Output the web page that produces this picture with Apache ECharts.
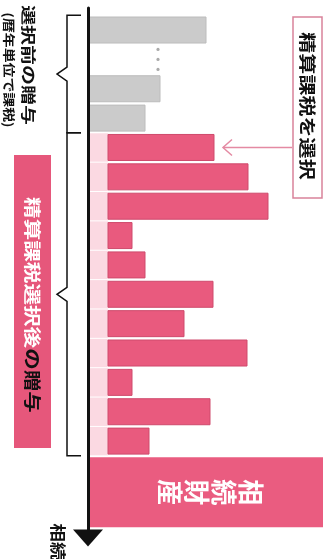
<!DOCTYPE html>
<html>
<head>
<meta charset="utf-8">
<script src="https://cdn.jsdelivr.net/npm/echarts@6/dist/echarts.min.js"></script>
<style>
  html, body { margin: 0; padding: 0; background: #fff; }
  #chart { width: 328px; height: 559px; }
</style>
</head>
<body>
<div id="chart"></div>
<script>
// 行番号（縦方向）と金額（横方向）
var grayRows = [0, 2, 3];
var grayValues = [118, 72, 57];
var omittedRow = 1;
var omittedValue = 70;
var pinkRows = [4, 5, 6, 7, 8, 9, 10, 11, 12, 13, 14];
var pinkBase = 20;
var pinkValues = [106, 140, 160, 24, 37, 105, 76, 139, 24, 102, 41];
var estateRow = 15.74;
var estateSpan = 2.38;
var estateValue = 235;
var estateLabel = '相続財産';

var FONT = '"Noto Sans CJK JP", sans-serif';
var BAR_SPAN = 0.886;

var grayData = grayRows.map(function (r, i) { return [r, 0, grayValues[i], BAR_SPAN]; });
var baseData = pinkRows.map(function (r) { return [r, 0, pinkBase, 0.966]; });
var pinkData = pinkRows.map(function (r, i) { return [r, pinkBase, pinkBase + pinkValues[i], BAR_SPAN]; });
var estateData = [[estateRow, 0, estateValue, estateSpan]];

function barItem(fill, stroke, label) {
  return function (params, api) {
    var y = api.value(0), s = api.value(3);
    var p0 = api.coord([api.value(1), y - s / 2]);
    var p1 = api.coord([api.value(2), y + s / 2]);
    var el = {
      type: 'rect',
      shape: { x: p0[0], y: p0[1], width: p1[0] - p0[0], height: p1[1] - p0[1] },
      style: { fill: fill, stroke: stroke, lineWidth: stroke ? 1 : 0 }
    };
    if (label) {
      el.textContent = {
        style: { text: label.split('').join('\n'), fill: '#fff', fontSize: 26, fontWeight: 'bold',
                 fontFamily: FONT, lineHeight: 27, align: 'center', verticalAlign: 'middle' }
      };
      el.textConfig = { position: 'inside', rotation: -Math.PI / 2, offset: [0, -5] };
    }
    return el;
  };
}

var myChart = echarts.init(document.getElementById('chart'));

var option = {
  animation: false,
  grid: { left: 88, right: 0, top: 8, bottom: 21 },
  xAxis: { type: 'value', min: 0, max: 240, show: false },
  yAxis: {
    type: 'value', inverse: true, min: -0.75, max: 17.3, z: 5,
    axisLine: { show: true, lineStyle: { color: '#111', width: 3 },
                symbol: ['triangle', 'none'], symbolSize: [30, 17] },
    axisTick: { show: false }, axisLabel: { show: false }, splitLine: { show: false }
  },
  series: [
    { type: 'custom', data: grayData, encode: { x: [1, 2], y: 0 },
      renderItem: barItem('#cbcbcb', '#bcbcbc') },
    { type: 'custom', data: baseData, encode: { x: [1, 2], y: 0 },
      renderItem: barItem('#fbd9e2') },
    { type: 'custom', data: pinkData, encode: { x: [1, 2], y: 0 },
      renderItem: barItem('#e95a7e', '#cf4a6c') },
    { type: 'custom', data: estateData, encode: { x: [1, 2], y: 0 },
      renderItem: barItem('#ea5c80', null, estateLabel) },
    { type: 'custom', data: [[omittedRow, omittedValue]], encode: { x: 1, y: 0 },
      renderItem: function (params, api) {
        var p = api.coord([api.value(1), api.value(0)]);
        return { type: 'group', children: [-10, 0, 10].map(function (d) {
          return { type: 'circle', shape: { cx: p[0], cy: p[1] + d, r: 1.6 }, style: { fill: '#aaa' } };
        }) };
      } }
  ]
};
myChart.setOption(option);

// 注記（括弧・ラベル・矢印）
function py(v) { return myChart.convertToPixel({ yAxisIndex: 0 }, v); }
function px(v) { return myChart.convertToPixel({ xAxisIndex: 0 }, v); }

function bracket(top, bottom) {
  var mid = (top + bottom) / 2;
  return { type: 'polyline', z: 10,
    shape: { points: [[81, top], [67, top], [67, mid - 7], [57, mid], [67, mid + 7], [67, bottom], [81, bottom]] },
    style: { stroke: '#111', lineWidth: 1.5, fill: null } };
}
// 縦書き風（時計回りに回転）、文字方向に少し伸ばす
function vtext(x, y, text, size, stretch, color, extra) {
  var st = { text: text, fill: color, fontSize: size, fontWeight: 'bold', fontFamily: FONT,
             align: 'center', verticalAlign: 'middle' };
  for (var k in extra) st[k] = extra[k];
  return { type: 'text', x: x, y: y, rotation: -Math.PI / 2, scaleX: stretch, z: 20, style: st };
}

var b1Top = py(grayRows[0] - 0.5), b1Bot = py(grayRows[grayRows.length - 1] + 0.5);
var b2Bot = py(pinkRows[pinkRows.length - 1] + 0.5);
var arrowY = py(pinkRows[0]);
var arrowX = px(pinkBase + pinkValues[0] + 9);

myChart.setOption({
  graphic: [
    bracket(b1Top, b1Bot),
    bracket(b1Bot, b2Bot),
    vtext(28.5, 65, '選択前の贈与', 15, 1.33, '#111'),
    vtext(9, 70, '(暦年単位で課税)', 12.5, 1.19, '#111'),
    { type: 'rect', z: 10, shape: { x: 14, y: 155, width: 37, height: 293 }, style: { fill: '#e6577b' } },
    vtext(32.5, 305, '{w|精算課税選択後}{b|の贈与}', 17, 1.27, '#fff', {
      rich: { w: { fill: '#fff', fontSize: 17, fontWeight: 'bold', fontFamily: FONT },
              b: { fill: '#111', fontSize: 17, fontWeight: 'bold', fontFamily: FONT } } }),
    { type: 'rect', z: 10, shape: { x: 293, y: 17, width: 29, height: 181 },
      style: { fill: '#fff', stroke: '#d9829a', lineWidth: 1.5 } },
    vtext(307.5, 106, '精算課税を選択', 17, 1.24, '#111'),
    { type: 'polyline', z: 10, shape: { points: [[292, arrowY], [arrowX, arrowY]] },
      style: { stroke: '#e48aa3', lineWidth: 1.5 } },
    { type: 'polyline', z: 10, shape: { points: [[arrowX + 9, arrowY - 8], [arrowX, arrowY], [arrowX + 9, arrowY + 8]] },
      style: { stroke: '#e48aa3', lineWidth: 1.5, fill: null } },
    vtext(58, 542, '相続', 16, 1.15, '#111')
  ]
});
</script>
</body>
</html>
